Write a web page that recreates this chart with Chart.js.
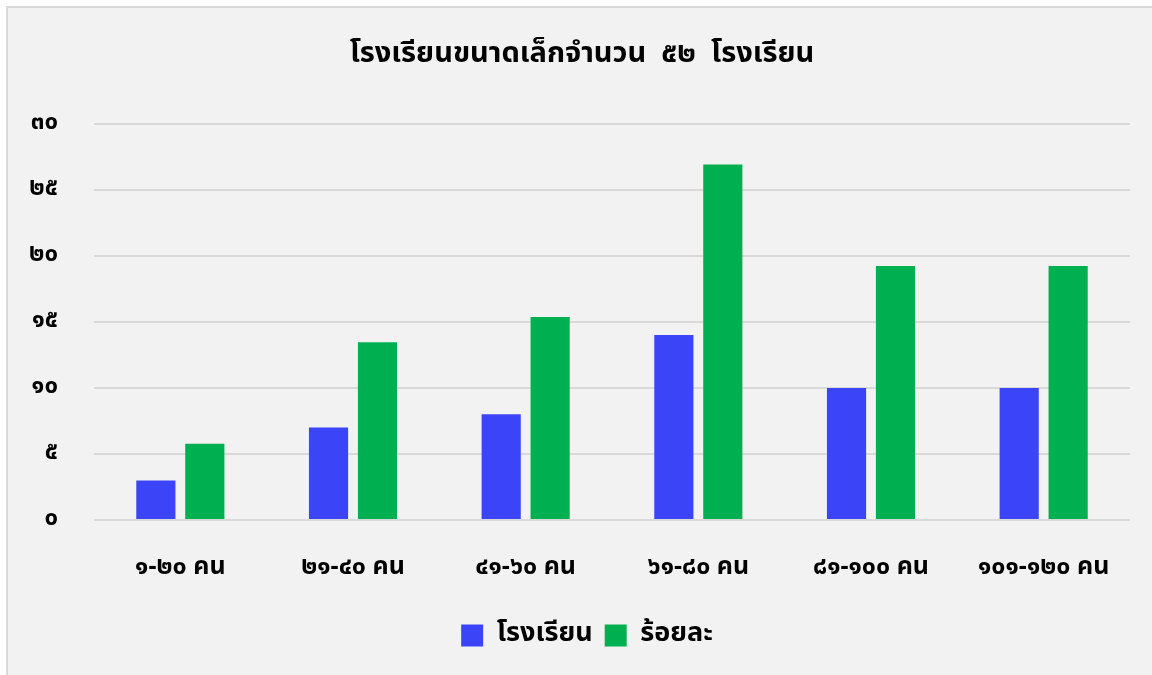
<!DOCTYPE html>
<html>
<head>
<meta charset="utf-8">
<script src="https://cdn.jsdelivr.net/npm/chart.js@4"></script>
<style>
    html, body { margin: 0; padding: 0; background: #ffffff; }
    #frame {
        position: absolute; left: 6px; top: 6px; width: 1146px; height: 669px;
        border-left: 2px solid #d9d9d9; border-top: 2px solid #d9d9d9;
        background: #f2f2f2;
    }
    #chart { display: block; }
</style>
</head>
<body>
<div id="frame"><canvas id="chart" width="1144" height="667"></canvas></div>
<script>
var categories = ["๑-๒๐ คน", "๒๑-๔๐ คน", "๔๑-๖๐ คน", "๖๑-๘๐ คน", "๘๑-๑๐๐ คน", "๑๐๑-๑๒๐ คน"];
var schools = [3, 7, 8, 14, 10, 10];
var percents = [5.77, 13.46, 15.38, 26.92, 19.23, 19.23];
var yTicks = [0, 5, 10, 15, 20, 25, 30];
var thaiDigits = ["๐", "๑", "๒", "๓", "๔", "๕", "๖", "๗", "๘", "๙"];

function toThai(n) {
    return String(n).replace(/[0-9]/g, function (d) { return thaiDigits[d]; });
}

var fontFamily = "'Noto Sans Thai', 'Leelawadee UI', Tahoma, 'DejaVu Sans', sans-serif";

// title and legend in the reference sit a bit right of the canvas centre
var boxShift = {
    id: 'boxShift',
    afterLayout: function (chart) {
        if (chart.legend) {
            chart.legend.left += 18;
            chart.legend.right += 18;
        }
        if (chart.titleBlock) {
            chart.titleBlock.left += 13;
            chart.titleBlock.right += 13;
        }
    }
};

window.addEventListener("load", function () {
    var ctx = document.getElementById("chart");
    var chart = new Chart(ctx, {
        type: 'bar',
        data: {
            labels: categories,
            datasets: [
                {
                    label: 'โรงเรียน',
                    data: schools,
                    backgroundColor: '#3b44f6',
                    borderWidth: 0,
                    categoryPercentage: 0.567,
                    barPercentage: 0.8
                },
                {
                    label: 'ร้อยละ',
                    data: percents,
                    backgroundColor: '#00b050',
                    borderWidth: 0,
                    categoryPercentage: 0.567,
                    barPercentage: 0.8
                }]
        },
        plugins: [boxShift],
        options: {
            responsive: false,
            animation: false,
            layout: { padding: { left: 0, right: 22, top: 0, bottom: 16 } },
            plugins: {
                title: {
                    display: true,
                    text: 'โรงเรียนขนาดเล็กจำนวน  ๕๒  โรงเรียน',
                    color: '#000000',
                    font: { family: fontFamily, size: 29, weight: 'bold' },
                    padding: { top: 31, bottom: 50 }
                },
                legend: {
                    position: 'bottom',
                    labels: {
                        color: '#000000',
                        font: { family: fontFamily, size: 27, weight: 'bold' },
                        boxWidth: 22,
                        boxHeight: 22,
                        padding: 12
                    }
                },
                tooltip: { enabled: false }
            },
            scales: {
                x: {
                    grid: { display: false },
                    border: { display: false },
                    ticks: {
                        color: '#000000',
                        padding: 26,
                        font: { family: fontFamily, size: 25, weight: 'bold' }
                    }
                },
                y: {
                    min: 0,
                    max: 30,
                    afterFit: function (scale) { scale.width = 86; },
                    afterBuildTicks: function (scale) {
                        scale.ticks = yTicks.map(function (v) { return { value: v }; });
                    },
                    grid: { color: '#d9d9d9', lineWidth: 2, drawTicks: false },
                    border: { display: false },
                    ticks: {
                        color: '#000000',
                        padding: 36,
                        font: { family: fontFamily, size: 24, weight: 'bold' },
                        callback: function (value) { return toThai(value); }
                    }
                }
            }
        }
    });
});
</script>
</body>
</html>
